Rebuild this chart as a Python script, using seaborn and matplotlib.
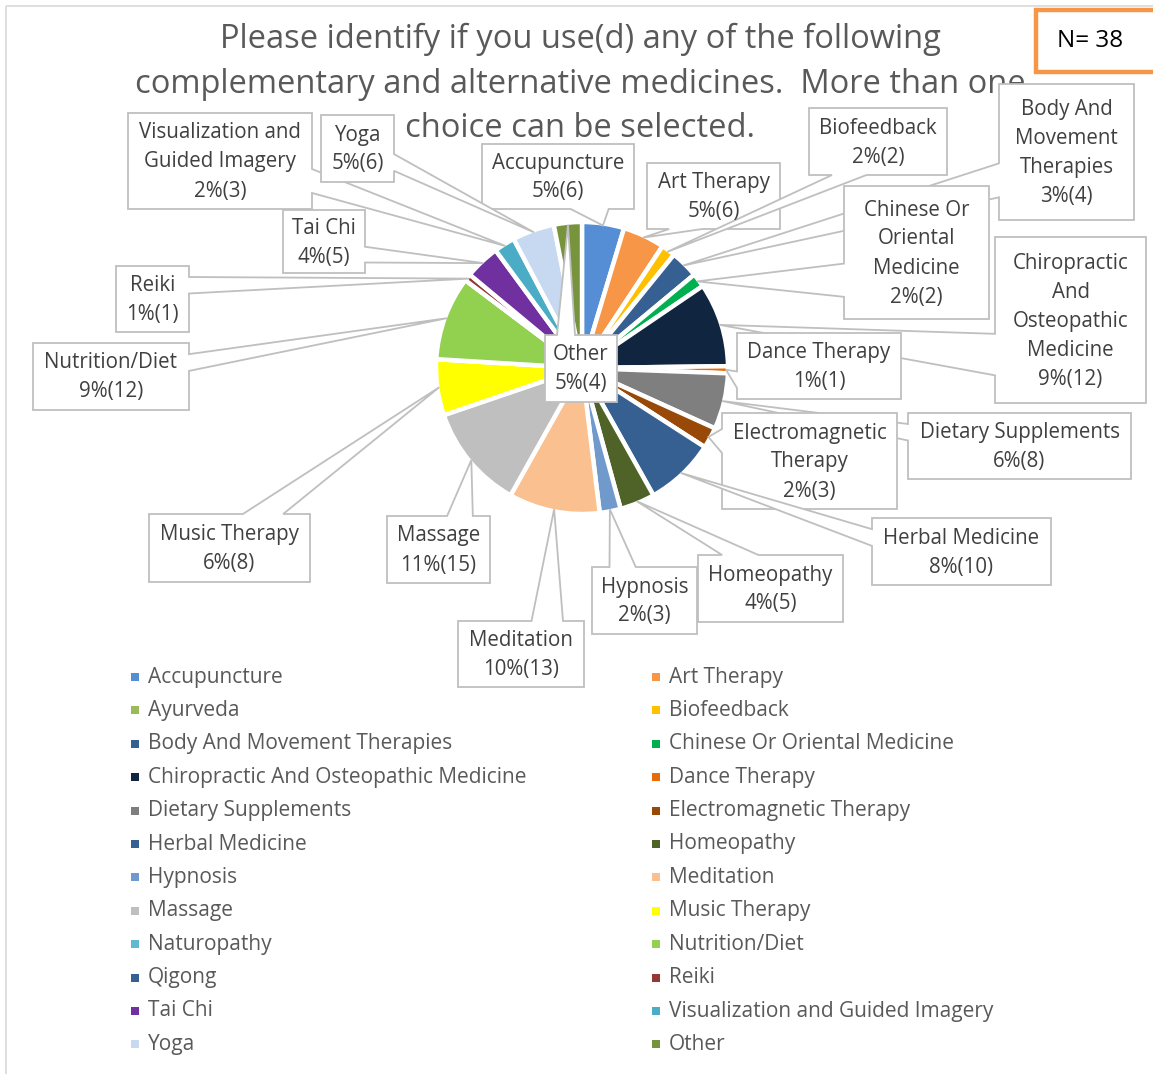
import matplotlib
matplotlib.use("Agg")
import matplotlib.pyplot as plt
from matplotlib.patches import Rectangle, Polygon
import numpy as np
import seaborn as sns

# ---- data -------------------------------------------------------------
categories = [
    "Accupuncture", "Art Therapy", "Ayurveda", "Biofeedback",
    "Body And Movement Therapies", "Chinese Or Oriental Medicine",
    "Chiropractic And Osteopathic Medicine", "Dance Therapy",
    "Dietary Supplements", "Electromagnetic Therapy", "Herbal Medicine",
    "Homeopathy", "Hypnosis", "Meditation", "Massage", "Music Therapy",
    "Naturopathy", "Nutrition/Diet", "Qigong", "Reiki", "Tai Chi",
    "Visualization and Guided Imagery", "Yoga", "Other",
]
counts = [6, 6, 0, 2, 4, 2, 12, 1, 8, 3, 10, 5, 3, 13, 15, 8, 0, 12, 0, 1, 5, 3, 6, 4]
percent_text = ["5%", "5%", "", "2%", "3%", "2%", "9%", "1%", "6%", "2%", "8%",
                "4%", "2%", "10%", "11%", "6%", "", "9%", "", "1%", "4%", "2%",
                "5%", "5%"]
label_names = {
    "Visualization and Guided Imagery": "Visualization and\nGuided Imagery",
    "Body And Movement Therapies": "Body And\nMovement\nTherapies",
    "Chinese Or Oriental Medicine": "Chinese Or\nOriental\nMedicine",
    "Chiropractic And Osteopathic Medicine": "Chiropractic\nAnd\nOsteopathic\nMedicine",
    "Electromagnetic Therapy": "Electromagnetic\nTherapy",
}
title_lines = ["Please identify if you use(d) any of the following",
               "complementary and alternative medicines.  More than one",
               "choice can be selected."]
sample_note = "N= 38"

# ---- style ------------------------------------------------------------
slice_colors = [
    "#558ED5", "#F79646", "#9BBB59", "#FFC000", "#376092", "#00B050",
    "#10253F", "#E46C0A", "#7F7F7F", "#984807", "#376092", "#4F6228",
    "#7099CC", "#FAC090", "#BFBFBF", "#FFFF00", "#5FBAD0", "#92D050",
    "#376092", "#953735", "#7030A0", "#4BACC6", "#C6D9F1", "#77933C",
]

# callout boxes (x0, y0, x1, y1) in canvas pixels
boxes = {
    "Accupuncture": (482, 144, 634, 209),
    "Art Therapy": (647, 163, 780, 229),
    "Biofeedback": (809, 108, 947, 175),
    "Body And Movement Therapies": (999, 84, 1134, 220),
    "Chinese Or Oriental Medicine": (844, 186, 989, 319),
    "Chiropractic And Osteopathic Medicine": (995, 237, 1146, 403),
    "Dance Therapy": (737, 333, 901, 399),
    "Dietary Supplements": (908, 413, 1131, 479),
    "Electromagnetic Therapy": (722, 413, 897, 509),
    "Herbal Medicine": (872, 518, 1051, 585),
    "Homeopathy": (698, 555, 843, 622),
    "Hypnosis": (592, 567, 697, 634),
    "Meditation": (458, 621, 584, 687),
    "Massage": (387, 516, 490, 583),
    "Music Therapy": (149, 514, 310, 582),
    "Nutrition/Diet": (33, 343, 189, 410),
    "Reiki": (116, 266, 189, 332),
    "Tai Chi": (283, 210, 365, 273),
    "Visualization and Guided Imagery": (128, 113, 312, 209),
    "Yoga": (321, 115, 394, 182),
    "Other": (545, 335, 617, 402),
}

sns.set_theme(style="white")
plt.rcParams["font.family"] = ["Open Sans", "DejaVu Sans"]

W, H = 1153, 1074
fig = plt.figure(figsize=(W / 100, H / 100), dpi=100)
ax = fig.add_axes([0, 0, 1, 1])

CX, CY, R = 582, 368, 146
wedges, _ = ax.pie(counts, colors=slice_colors, radius=R, center=(CX, CY),
                   startangle=-90, counterclock=True, frame=True,
                   wedgeprops=dict(edgecolor="white", linewidth=3.2))
ax.set_xlim(0, W)
ax.set_ylim(H, 0)
ax.set_axis_off()

# chart frame
ax.add_patch(Rectangle((6, 6), W + 20, H + 20, facecolor="none",
                       edgecolor="#D9D9D9", linewidth=1.2, zorder=0))

# title
ax.text(580, 84, "\n".join(title_lines), ha="center", va="center",
        fontsize=23.5, color="#595959", linespacing=1.45, zorder=2)

# N box
ax.add_patch(Rectangle((1036, 10), 140, 62, facecolor="white",
                       edgecolor="#F79646", linewidth=3.2, zorder=5))
ax.text(1057, 41, sample_note, ha="left", va="center", fontsize=17.5,
        color="black", zorder=6)


def callout(box, tip):
    x0, y0, x1, y1 = box
    w, h = x1 - x0, y1 - y0
    cx, cy = (x0 + x1) / 2, (y0 + y1) / 2
    dx, dy = (tip[0] - cx) / w, (tip[1] - cy) / h
    pos_x = (7, 10) if tip[0] > cx else (2, 5)
    pos_y = (7, 10) if tip[1] > cy else (2, 5)
    bx1, bx2 = x0 + w * pos_x[0] / 12, x0 + w * pos_x[1] / 12
    by1, by2 = y0 + h * pos_y[0] / 12, y0 + h * pos_y[1] / 12
    inside = x0 <= tip[0] <= x1 and y0 <= tip[1] <= y1
    if inside:
        pts = [(x0, y0), (x1, y0), (x1, y1), (x0, y1)]
    elif abs(dx) > abs(dy):
        if dx > 0:
            pts = [(x0, y0), (x1, y0), (x1, by1), tip, (x1, by2), (x1, y1), (x0, y1)]
        else:
            pts = [(x0, y0), (x1, y0), (x1, y1), (x0, y1), (x0, by2), tip, (x0, by1)]
    else:
        if dy > 0:
            pts = [(x0, y0), (x1, y0), (x1, y1), (bx2, y1), tip, (bx1, y1), (x0, y1)]
        else:
            pts = [(x0, y0), (bx1, y0), tip, (bx2, y0), (x1, y0), (x1, y1), (x0, y1)]
    return pts


total = sum(counts)
cum = 0.0
for name, val, pct in zip(categories, counts, percent_text):
    start = cum
    cum += val
    if val == 0 or name not in boxes:
        continue
    mid = np.deg2rad(-90 + (start + val / 2) / total * 360)
    tip = (CX + (R - 2) * np.cos(mid), CY + (R - 2) * np.sin(mid))
    box = boxes[name]
    ax.add_patch(Polygon(callout(box, tip), closed=True, facecolor="white",
                         edgecolor="#BFBFBF", linewidth=1.3, zorder=3))
    txt = f"{label_names.get(name, name)}\n{pct}({val})"
    ax.text((box[0] + box[2]) / 2, (box[1] + box[3]) / 2 + 1, txt,
            ha="center", va="center", fontsize=14.8, color="#404040",
            linespacing=1.5, zorder=4)

# legend, laid out row by row in two columns
row0, row_step = 677, 33.4
for i, (name, col) in enumerate(zip(categories, slice_colors)):
    r, c = divmod(i, 2)
    y = row0 + r * row_step
    mx = 135 if c == 0 else 656
    ax.scatter([mx], [y], marker="s", s=30, color=col, linewidths=0, zorder=4)
    ax.text(mx + 13, y, name, ha="left", va="center", fontsize=15,
            color="#595959", zorder=4)

fig.savefig("out.png", dpi=100)
